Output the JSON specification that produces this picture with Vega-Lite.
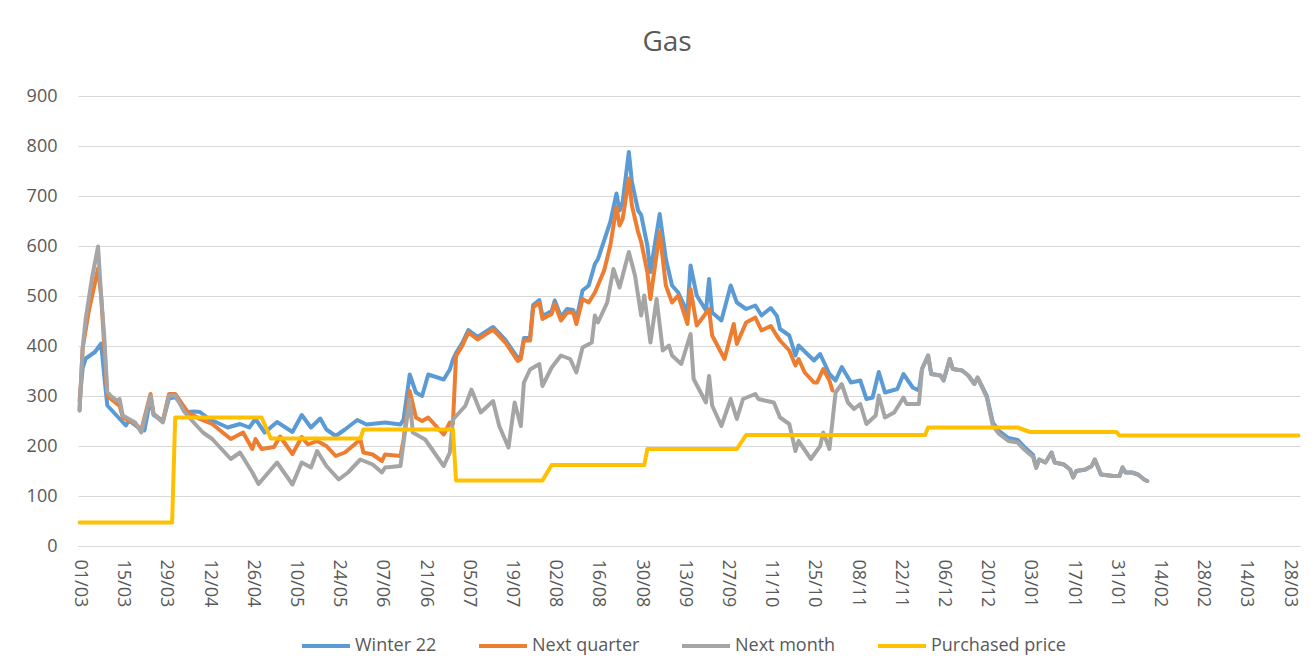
{
"$schema": "https://vega.github.io/schema/vega-lite/v6.json",
"width": 1222, "height": 450,
"autosize": {"type": "none"},
"padding": {"left": 78, "top": 96, "right": 15, "bottom": 126},
"background": "white",
"config": {"view": {"stroke": null}, "font": "Open Sans"},
"title": {"text": "Gas", "fontSize": 28, "fontWeight": "normal", "font": "Open Sans", "color": "#595959", "offset": 30, "dx": -22, "anchor": "middle"},
"datasets": {
"series": [
{"d":"2022-03-01","s":"Winter 22","v":290},{"d":"2022-03-02","s":"Winter 22","v":355},{"d":"2022-03-03","s":"Winter 22","v":375},{"d":"2022-03-06","s":"Winter 22","v":388},{"d":"2022-03-08","s":"Winter 22","v":405},{"d":"2022-03-09","s":"Winter 22","v":341},{"d":"2022-03-10","s":"Winter 22","v":281},{"d":"2022-03-13","s":"Winter 22","v":261},{"d":"2022-03-16","s":"Winter 22","v":241},{"d":"2022-03-17","s":"Winter 22","v":251},{"d":"2022-03-20","s":"Winter 22","v":237},{"d":"2022-03-22","s":"Winter 22","v":231},{"d":"2022-03-24","s":"Winter 22","v":295},{"d":"2022-03-25","s":"Winter 22","v":262},{"d":"2022-03-28","s":"Winter 22","v":250},{"d":"2022-03-30","s":"Winter 22","v":295},{"d":"2022-04-01","s":"Winter 22","v":298},{"d":"2022-04-05","s":"Winter 22","v":268},{"d":"2022-04-07","s":"Winter 22","v":269},{"d":"2022-04-09","s":"Winter 22","v":268},{"d":"2022-04-12","s":"Winter 22","v":254},{"d":"2022-04-18","s":"Winter 22","v":237},{"d":"2022-04-22","s":"Winter 22","v":244},{"d":"2022-04-25","s":"Winter 22","v":237},{"d":"2022-04-27","s":"Winter 22","v":254},{"d":"2022-04-30","s":"Winter 22","v":227},{"d":"2022-05-04","s":"Winter 22","v":248},{"d":"2022-05-09","s":"Winter 22","v":228},{"d":"2022-05-12","s":"Winter 22","v":262},{"d":"2022-05-15","s":"Winter 22","v":237},{"d":"2022-05-18","s":"Winter 22","v":255},{"d":"2022-05-20","s":"Winter 22","v":233},{"d":"2022-05-23","s":"Winter 22","v":220},{"d":"2022-05-26","s":"Winter 22","v":233},{"d":"2022-05-30","s":"Winter 22","v":252},{"d":"2022-06-02","s":"Winter 22","v":243},{"d":"2022-06-08","s":"Winter 22","v":247},{"d":"2022-06-13","s":"Winter 22","v":243},{"d":"2022-06-14","s":"Winter 22","v":253},{"d":"2022-06-16","s":"Winter 22","v":343},{"d":"2022-06-18","s":"Winter 22","v":307},{"d":"2022-06-20","s":"Winter 22","v":300},{"d":"2022-06-22","s":"Winter 22","v":343},{"d":"2022-06-27","s":"Winter 22","v":333},{"d":"2022-06-29","s":"Winter 22","v":353},{"d":"2022-06-30","s":"Winter 22","v":373},{"d":"2022-07-01","s":"Winter 22","v":386},{"d":"2022-07-03","s":"Winter 22","v":406},{"d":"2022-07-05","s":"Winter 22","v":432},{"d":"2022-07-08","s":"Winter 22","v":418},{"d":"2022-07-13","s":"Winter 22","v":438},{"d":"2022-07-17","s":"Winter 22","v":412},{"d":"2022-07-21","s":"Winter 22","v":376},{"d":"2022-07-22","s":"Winter 22","v":380},{"d":"2022-07-23","s":"Winter 22","v":416},{"d":"2022-07-25","s":"Winter 22","v":416},{"d":"2022-07-26","s":"Winter 22","v":482},{"d":"2022-07-28","s":"Winter 22","v":492},{"d":"2022-07-29","s":"Winter 22","v":460},{"d":"2022-08-01","s":"Winter 22","v":470},{"d":"2022-08-02","s":"Winter 22","v":491},{"d":"2022-08-04","s":"Winter 22","v":458},{"d":"2022-08-06","s":"Winter 22","v":474},{"d":"2022-08-08","s":"Winter 22","v":472},{"d":"2022-08-09","s":"Winter 22","v":452},{"d":"2022-08-11","s":"Winter 22","v":511},{"d":"2022-08-13","s":"Winter 22","v":521},{"d":"2022-08-15","s":"Winter 22","v":564},{"d":"2022-08-16","s":"Winter 22","v":574},{"d":"2022-08-20","s":"Winter 22","v":648},{"d":"2022-08-22","s":"Winter 22","v":705},{"d":"2022-08-23","s":"Winter 22","v":671},{"d":"2022-08-24","s":"Winter 22","v":688},{"d":"2022-08-26","s":"Winter 22","v":788},{"d":"2022-08-27","s":"Winter 22","v":728},{"d":"2022-08-29","s":"Winter 22","v":671},{"d":"2022-08-30","s":"Winter 22","v":662},{"d":"2022-09-01","s":"Winter 22","v":601},{"d":"2022-09-02","s":"Winter 22","v":548},{"d":"2022-09-05","s":"Winter 22","v":664},{"d":"2022-09-07","s":"Winter 22","v":574},{"d":"2022-09-09","s":"Winter 22","v":521},{"d":"2022-09-11","s":"Winter 22","v":507},{"d":"2022-09-14","s":"Winter 22","v":467},{"d":"2022-09-15","s":"Winter 22","v":561},{"d":"2022-09-17","s":"Winter 22","v":501},{"d":"2022-09-20","s":"Winter 22","v":471},{"d":"2022-09-21","s":"Winter 22","v":534},{"d":"2022-09-22","s":"Winter 22","v":467},{"d":"2022-09-25","s":"Winter 22","v":451},{"d":"2022-09-28","s":"Winter 22","v":521},{"d":"2022-09-30","s":"Winter 22","v":487},{"d":"2022-10-03","s":"Winter 22","v":474},{"d":"2022-10-06","s":"Winter 22","v":481},{"d":"2022-10-08","s":"Winter 22","v":461},{"d":"2022-10-11","s":"Winter 22","v":476},{"d":"2022-10-13","s":"Winter 22","v":460},{"d":"2022-10-14","s":"Winter 22","v":434},{"d":"2022-10-17","s":"Winter 22","v":421},{"d":"2022-10-19","s":"Winter 22","v":381},{"d":"2022-10-20","s":"Winter 22","v":401},{"d":"2022-10-25","s":"Winter 22","v":371},{"d":"2022-10-27","s":"Winter 22","v":384},{"d":"2022-10-30","s":"Winter 22","v":344},{"d":"2022-11-01","s":"Winter 22","v":331},{"d":"2022-11-03","s":"Winter 22","v":358},{"d":"2022-11-06","s":"Winter 22","v":327},{"d":"2022-11-09","s":"Winter 22","v":331},{"d":"2022-11-11","s":"Winter 22","v":294},{"d":"2022-11-13","s":"Winter 22","v":297},{"d":"2022-11-15","s":"Winter 22","v":348},{"d":"2022-11-17","s":"Winter 22","v":307},{"d":"2022-11-21","s":"Winter 22","v":314},{"d":"2022-11-23","s":"Winter 22","v":344},{"d":"2022-11-26","s":"Winter 22","v":317},{"d":"2022-11-28","s":"Winter 22","v":311},{"d":"2022-11-29","s":"Winter 22","v":354},{"d":"2022-12-01","s":"Winter 22","v":381},{"d":"2022-12-02","s":"Winter 22","v":344},{"d":"2022-12-05","s":"Winter 22","v":341},{"d":"2022-12-06","s":"Winter 22","v":331},{"d":"2022-12-08","s":"Winter 22","v":374},{"d":"2022-12-09","s":"Winter 22","v":354},{"d":"2022-12-12","s":"Winter 22","v":351},{"d":"2022-12-14","s":"Winter 22","v":341},{"d":"2022-12-16","s":"Winter 22","v":324},{"d":"2022-12-17","s":"Winter 22","v":337},{"d":"2022-12-20","s":"Winter 22","v":300},{"d":"2022-12-22","s":"Winter 22","v":246},{"d":"2022-12-24","s":"Winter 22","v":230},{"d":"2022-12-27","s":"Winter 22","v":216},{"d":"2022-12-30","s":"Winter 22","v":212},{"d":"2023-01-01","s":"Winter 22","v":199},{"d":"2023-01-04","s":"Winter 22","v":182},{"d":"2023-01-05","s":"Winter 22","v":158},{"d":"2023-01-06","s":"Winter 22","v":173},{"d":"2023-01-08","s":"Winter 22","v":167},{"d":"2023-01-10","s":"Winter 22","v":187},{"d":"2023-01-11","s":"Winter 22","v":167},{"d":"2023-01-14","s":"Winter 22","v":163},{"d":"2023-01-16","s":"Winter 22","v":153},{"d":"2023-01-17","s":"Winter 22","v":137},{"d":"2023-01-18","s":"Winter 22","v":150},{"d":"2023-01-21","s":"Winter 22","v":153},{"d":"2023-01-23","s":"Winter 22","v":160},{"d":"2023-01-24","s":"Winter 22","v":173},{"d":"2023-01-26","s":"Winter 22","v":143},{"d":"2023-01-30","s":"Winter 22","v":140},{"d":"2023-02-01","s":"Winter 22","v":140},{"d":"2023-02-02","s":"Winter 22","v":157},{"d":"2023-02-03","s":"Winter 22","v":147},{"d":"2023-02-05","s":"Winter 22","v":147},{"d":"2023-02-07","s":"Winter 22","v":143},{"d":"2023-02-09","s":"Winter 22","v":133},{"d":"2023-02-10","s":"Winter 22","v":130},

{"d":"2022-03-01","s":"Next quarter","v":271},{"d":"2022-03-02","s":"Next quarter","v":395},{"d":"2022-03-04","s":"Next quarter","v":470},{"d":"2022-03-07","s":"Next quarter","v":555},{"d":"2022-03-08","s":"Next quarter","v":500},{"d":"2022-03-09","s":"Next quarter","v":400},{"d":"2022-03-10","s":"Next quarter","v":300},{"d":"2022-03-11","s":"Next quarter","v":295},{"d":"2022-03-13","s":"Next quarter","v":285},{"d":"2022-03-14","s":"Next quarter","v":280},{"d":"2022-03-15","s":"Next quarter","v":258},{"d":"2022-03-17","s":"Next quarter","v":250},{"d":"2022-03-19","s":"Next quarter","v":245},{"d":"2022-03-21","s":"Next quarter","v":232},{"d":"2022-03-24","s":"Next quarter","v":304},{"d":"2022-03-25","s":"Next quarter","v":264},{"d":"2022-03-28","s":"Next quarter","v":250},{"d":"2022-03-30","s":"Next quarter","v":304},{"d":"2022-04-01","s":"Next quarter","v":304},{"d":"2022-04-05","s":"Next quarter","v":268},{"d":"2022-04-09","s":"Next quarter","v":254},{"d":"2022-04-13","s":"Next quarter","v":244},{"d":"2022-04-19","s":"Next quarter","v":214},{"d":"2022-04-23","s":"Next quarter","v":227},{"d":"2022-04-26","s":"Next quarter","v":194},{"d":"2022-04-27","s":"Next quarter","v":214},{"d":"2022-04-29","s":"Next quarter","v":194},{"d":"2022-05-03","s":"Next quarter","v":198},{"d":"2022-05-05","s":"Next quarter","v":219},{"d":"2022-05-09","s":"Next quarter","v":184},{"d":"2022-05-12","s":"Next quarter","v":218},{"d":"2022-05-14","s":"Next quarter","v":203},{"d":"2022-05-17","s":"Next quarter","v":210},{"d":"2022-05-20","s":"Next quarter","v":200},{"d":"2022-05-23","s":"Next quarter","v":180},{"d":"2022-05-26","s":"Next quarter","v":187},{"d":"2022-05-31","s":"Next quarter","v":213},{"d":"2022-06-01","s":"Next quarter","v":187},{"d":"2022-06-04","s":"Next quarter","v":183},{"d":"2022-06-07","s":"Next quarter","v":170},{"d":"2022-06-08","s":"Next quarter","v":183},{"d":"2022-06-13","s":"Next quarter","v":180},{"d":"2022-06-14","s":"Next quarter","v":213},{"d":"2022-06-16","s":"Next quarter","v":310},{"d":"2022-06-18","s":"Next quarter","v":257},{"d":"2022-06-20","s":"Next quarter","v":250},{"d":"2022-06-22","s":"Next quarter","v":257},{"d":"2022-06-27","s":"Next quarter","v":223},{"d":"2022-06-29","s":"Next quarter","v":247},{"d":"2022-06-30","s":"Next quarter","v":245},{"d":"2022-07-01","s":"Next quarter","v":380},{"d":"2022-07-03","s":"Next quarter","v":400},{"d":"2022-07-05","s":"Next quarter","v":427},{"d":"2022-07-08","s":"Next quarter","v":413},{"d":"2022-07-13","s":"Next quarter","v":433},{"d":"2022-07-17","s":"Next quarter","v":407},{"d":"2022-07-21","s":"Next quarter","v":370},{"d":"2022-07-22","s":"Next quarter","v":374},{"d":"2022-07-23","s":"Next quarter","v":411},{"d":"2022-07-25","s":"Next quarter","v":411},{"d":"2022-07-26","s":"Next quarter","v":477},{"d":"2022-07-28","s":"Next quarter","v":487},{"d":"2022-07-29","s":"Next quarter","v":454},{"d":"2022-08-01","s":"Next quarter","v":464},{"d":"2022-08-02","s":"Next quarter","v":484},{"d":"2022-08-04","s":"Next quarter","v":451},{"d":"2022-08-06","s":"Next quarter","v":467},{"d":"2022-08-08","s":"Next quarter","v":467},{"d":"2022-08-09","s":"Next quarter","v":444},{"d":"2022-08-11","s":"Next quarter","v":494},{"d":"2022-08-13","s":"Next quarter","v":487},{"d":"2022-08-15","s":"Next quarter","v":507},{"d":"2022-08-18","s":"Next quarter","v":551},{"d":"2022-08-20","s":"Next quarter","v":601},{"d":"2022-08-22","s":"Next quarter","v":678},{"d":"2022-08-23","s":"Next quarter","v":641},{"d":"2022-08-24","s":"Next quarter","v":654},{"d":"2022-08-26","s":"Next quarter","v":735},{"d":"2022-08-27","s":"Next quarter","v":681},{"d":"2022-08-29","s":"Next quarter","v":628},{"d":"2022-08-30","s":"Next quarter","v":608},{"d":"2022-09-01","s":"Next quarter","v":548},{"d":"2022-09-02","s":"Next quarter","v":494},{"d":"2022-09-05","s":"Next quarter","v":628},{"d":"2022-09-07","s":"Next quarter","v":521},{"d":"2022-09-09","s":"Next quarter","v":487},{"d":"2022-09-11","s":"Next quarter","v":501},{"d":"2022-09-14","s":"Next quarter","v":444},{"d":"2022-09-15","s":"Next quarter","v":514},{"d":"2022-09-17","s":"Next quarter","v":441},{"d":"2022-09-21","s":"Next quarter","v":474},{"d":"2022-09-22","s":"Next quarter","v":421},{"d":"2022-09-26","s":"Next quarter","v":374},{"d":"2022-09-29","s":"Next quarter","v":444},{"d":"2022-09-30","s":"Next quarter","v":404},{"d":"2022-10-03","s":"Next quarter","v":447},{"d":"2022-10-06","s":"Next quarter","v":457},{"d":"2022-10-08","s":"Next quarter","v":431},{"d":"2022-10-11","s":"Next quarter","v":440},{"d":"2022-10-13","s":"Next quarter","v":420},{"d":"2022-10-14","s":"Next quarter","v":411},{"d":"2022-10-17","s":"Next quarter","v":391},{"d":"2022-10-19","s":"Next quarter","v":361},{"d":"2022-10-20","s":"Next quarter","v":374},{"d":"2022-10-22","s":"Next quarter","v":347},{"d":"2022-10-25","s":"Next quarter","v":327},{"d":"2022-10-26","s":"Next quarter","v":327},{"d":"2022-10-28","s":"Next quarter","v":354},{"d":"2022-10-30","s":"Next quarter","v":331},{"d":"2022-10-31","s":"Next quarter","v":311},

{"d":"2022-03-01","s":"Next month","v":271},{"d":"2022-03-02","s":"Next month","v":395},{"d":"2022-03-03","s":"Next month","v":455},{"d":"2022-03-05","s":"Next month","v":535},{"d":"2022-03-07","s":"Next month","v":599},{"d":"2022-03-08","s":"Next month","v":500},{"d":"2022-03-09","s":"Next month","v":420},{"d":"2022-03-10","s":"Next month","v":308},{"d":"2022-03-11","s":"Next month","v":301},{"d":"2022-03-13","s":"Next month","v":291},{"d":"2022-03-14","s":"Next month","v":294},{"d":"2022-03-15","s":"Next month","v":261},{"d":"2022-03-17","s":"Next month","v":254},{"d":"2022-03-19","s":"Next month","v":247},{"d":"2022-03-21","s":"Next month","v":227},{"d":"2022-03-24","s":"Next month","v":301},{"d":"2022-03-25","s":"Next month","v":264},{"d":"2022-03-28","s":"Next month","v":247},{"d":"2022-03-30","s":"Next month","v":301},{"d":"2022-04-01","s":"Next month","v":301},{"d":"2022-04-04","s":"Next month","v":268},{"d":"2022-04-07","s":"Next month","v":247},{"d":"2022-04-10","s":"Next month","v":227},{"d":"2022-04-13","s":"Next month","v":214},{"d":"2022-04-19","s":"Next month","v":174},{"d":"2022-04-22","s":"Next month","v":187},{"d":"2022-04-26","s":"Next month","v":147},{"d":"2022-04-28","s":"Next month","v":124},{"d":"2022-05-04","s":"Next month","v":167},{"d":"2022-05-09","s":"Next month","v":123},{"d":"2022-05-12","s":"Next month","v":167},{"d":"2022-05-15","s":"Next month","v":157},{"d":"2022-05-17","s":"Next month","v":190},{"d":"2022-05-20","s":"Next month","v":160},{"d":"2022-05-24","s":"Next month","v":133},{"d":"2022-05-27","s":"Next month","v":147},{"d":"2022-05-31","s":"Next month","v":173},{"d":"2022-06-04","s":"Next month","v":163},{"d":"2022-06-07","s":"Next month","v":147},{"d":"2022-06-08","s":"Next month","v":157},{"d":"2022-06-13","s":"Next month","v":160},{"d":"2022-06-14","s":"Next month","v":207},{"d":"2022-06-16","s":"Next month","v":293},{"d":"2022-06-17","s":"Next month","v":227},{"d":"2022-06-21","s":"Next month","v":213},{"d":"2022-06-27","s":"Next month","v":160},{"d":"2022-06-29","s":"Next month","v":187},{"d":"2022-06-30","s":"Next month","v":253},{"d":"2022-07-04","s":"Next month","v":280},{"d":"2022-07-06","s":"Next month","v":313},{"d":"2022-07-09","s":"Next month","v":267},{"d":"2022-07-13","s":"Next month","v":290},{"d":"2022-07-15","s":"Next month","v":240},{"d":"2022-07-18","s":"Next month","v":197},{"d":"2022-07-20","s":"Next month","v":287},{"d":"2022-07-22","s":"Next month","v":240},{"d":"2022-07-23","s":"Next month","v":327},{"d":"2022-07-25","s":"Next month","v":353},{"d":"2022-07-28","s":"Next month","v":364},{"d":"2022-07-29","s":"Next month","v":320},{"d":"2022-08-01","s":"Next month","v":357},{"d":"2022-08-04","s":"Next month","v":381},{"d":"2022-08-07","s":"Next month","v":374},{"d":"2022-08-09","s":"Next month","v":347},{"d":"2022-08-11","s":"Next month","v":397},{"d":"2022-08-14","s":"Next month","v":407},{"d":"2022-08-15","s":"Next month","v":461},{"d":"2022-08-16","s":"Next month","v":447},{"d":"2022-08-19","s":"Next month","v":487},{"d":"2022-08-21","s":"Next month","v":554},{"d":"2022-08-23","s":"Next month","v":517},{"d":"2022-08-26","s":"Next month","v":588},{"d":"2022-08-28","s":"Next month","v":541},{"d":"2022-08-30","s":"Next month","v":461},{"d":"2022-08-31","s":"Next month","v":501},{"d":"2022-09-02","s":"Next month","v":407},{"d":"2022-09-04","s":"Next month","v":494},{"d":"2022-09-06","s":"Next month","v":391},{"d":"2022-09-08","s":"Next month","v":401},{"d":"2022-09-09","s":"Next month","v":381},{"d":"2022-09-12","s":"Next month","v":364},{"d":"2022-09-15","s":"Next month","v":424},{"d":"2022-09-16","s":"Next month","v":334},{"d":"2022-09-20","s":"Next month","v":287},{"d":"2022-09-21","s":"Next month","v":340},{"d":"2022-09-22","s":"Next month","v":281},{"d":"2022-09-25","s":"Next month","v":240},{"d":"2022-09-28","s":"Next month","v":294},{"d":"2022-09-30","s":"Next month","v":254},{"d":"2022-10-02","s":"Next month","v":294},{"d":"2022-10-06","s":"Next month","v":304},{"d":"2022-10-07","s":"Next month","v":294},{"d":"2022-10-09","s":"Next month","v":291},{"d":"2022-10-12","s":"Next month","v":287},{"d":"2022-10-14","s":"Next month","v":257},{"d":"2022-10-17","s":"Next month","v":244},{"d":"2022-10-19","s":"Next month","v":190},{"d":"2022-10-20","s":"Next month","v":210},{"d":"2022-10-24","s":"Next month","v":174},{"d":"2022-10-27","s":"Next month","v":200},{"d":"2022-10-28","s":"Next month","v":227},{"d":"2022-10-30","s":"Next month","v":194},{"d":"2022-11-01","s":"Next month","v":307},{"d":"2022-11-03","s":"Next month","v":324},{"d":"2022-11-05","s":"Next month","v":287},{"d":"2022-11-07","s":"Next month","v":274},{"d":"2022-11-09","s":"Next month","v":284},{"d":"2022-11-11","s":"Next month","v":244},{"d":"2022-11-14","s":"Next month","v":261},{"d":"2022-11-15","s":"Next month","v":301},{"d":"2022-11-17","s":"Next month","v":257},{"d":"2022-11-20","s":"Next month","v":267},{"d":"2022-11-23","s":"Next month","v":297},{"d":"2022-11-24","s":"Next month","v":284},{"d":"2022-11-28","s":"Next month","v":284},{"d":"2022-11-29","s":"Next month","v":354},{"d":"2022-12-01","s":"Next month","v":381},{"d":"2022-12-02","s":"Next month","v":344},{"d":"2022-12-05","s":"Next month","v":341},{"d":"2022-12-06","s":"Next month","v":331},{"d":"2022-12-08","s":"Next month","v":374},{"d":"2022-12-09","s":"Next month","v":354},{"d":"2022-12-12","s":"Next month","v":351},{"d":"2022-12-14","s":"Next month","v":341},{"d":"2022-12-16","s":"Next month","v":324},{"d":"2022-12-17","s":"Next month","v":337},{"d":"2022-12-20","s":"Next month","v":297},{"d":"2022-12-22","s":"Next month","v":240},{"d":"2022-12-24","s":"Next month","v":224},{"d":"2022-12-27","s":"Next month","v":210},{"d":"2022-12-30","s":"Next month","v":207},{"d":"2023-01-01","s":"Next month","v":194},{"d":"2023-01-04","s":"Next month","v":178},{"d":"2023-01-05","s":"Next month","v":156},{"d":"2023-01-06","s":"Next month","v":173},{"d":"2023-01-08","s":"Next month","v":167},{"d":"2023-01-10","s":"Next month","v":187},{"d":"2023-01-11","s":"Next month","v":167},{"d":"2023-01-14","s":"Next month","v":163},{"d":"2023-01-16","s":"Next month","v":153},{"d":"2023-01-17","s":"Next month","v":137},{"d":"2023-01-18","s":"Next month","v":150},{"d":"2023-01-21","s":"Next month","v":153},{"d":"2023-01-23","s":"Next month","v":160},{"d":"2023-01-24","s":"Next month","v":173},{"d":"2023-01-26","s":"Next month","v":143},{"d":"2023-01-30","s":"Next month","v":140},{"d":"2023-02-01","s":"Next month","v":140},{"d":"2023-02-02","s":"Next month","v":157},{"d":"2023-02-03","s":"Next month","v":147},{"d":"2023-02-05","s":"Next month","v":147},{"d":"2023-02-07","s":"Next month","v":143},{"d":"2023-02-09","s":"Next month","v":133},{"d":"2023-02-10","s":"Next month","v":130},

{"d":"2022-03-01","s":"Purchased price","v":47},{"d":"2022-03-31","s":"Purchased price","v":47},{"d":"2022-04-01","s":"Purchased price","v":257},{"d":"2022-04-29","s":"Purchased price","v":257},{"d":"2022-05-02","s":"Purchased price","v":215},{"d":"2022-05-31","s":"Purchased price","v":215},{"d":"2022-06-01","s":"Purchased price","v":233},{"d":"2022-06-30","s":"Purchased price","v":233},{"d":"2022-07-01","s":"Purchased price","v":131},{"d":"2022-07-29","s":"Purchased price","v":131},{"d":"2022-08-01","s":"Purchased price","v":162},{"d":"2022-08-31","s":"Purchased price","v":162},{"d":"2022-09-01","s":"Purchased price","v":194},{"d":"2022-09-30","s":"Purchased price","v":194},{"d":"2022-10-03","s":"Purchased price","v":222},{"d":"2022-11-30","s":"Purchased price","v":222},{"d":"2022-12-01","s":"Purchased price","v":237},{"d":"2022-12-30","s":"Purchased price","v":237},{"d":"2023-01-03","s":"Purchased price","v":228},{"d":"2023-01-31","s":"Purchased price","v":228},{"d":"2023-02-01","s":"Purchased price","v":221},{"d":"2023-03-31","s":"Purchased price","v":221}
]
},
"data": {"name": "series", "format": {"parse": {"d": "utc:'%Y-%m-%d'"}}},
"encoding": {
"x": {"field": "d", "type": "temporal",
 "scale": {"type": "utc", "domain": [{"year": 2022, "month": 2, "date": 28, "hours": 12, "utc": true}, {"year": 2023, "month": 3, "date": 31, "hours": 12, "utc": true}]},
 "axis": {"title": null, "labelExpr": "utcFormat(datum.value, '%d/%m')", "labelAngle": 90, "labelFontSize": 18, "labelFont": "Open Sans", "labelColor": "#595959", "labelPadding": 13, "labelFlush": false, "labelOverlap": false, "grid": false, "ticks": false, "tickSize": 0, "domain": true, "domainColor": "#D9D9D9", "domainWidth": 1,
  "values": [
   {"year":2022,"month":3,"date":1,"utc":true},{"year":2022,"month":3,"date":15,"utc":true},{"year":2022,"month":3,"date":29,"utc":true},{"year":2022,"month":4,"date":12,"utc":true},{"year":2022,"month":4,"date":26,"utc":true},{"year":2022,"month":5,"date":10,"utc":true},{"year":2022,"month":5,"date":24,"utc":true},{"year":2022,"month":6,"date":7,"utc":true},{"year":2022,"month":6,"date":21,"utc":true},{"year":2022,"month":7,"date":5,"utc":true},{"year":2022,"month":7,"date":19,"utc":true},{"year":2022,"month":8,"date":2,"utc":true},{"year":2022,"month":8,"date":16,"utc":true},{"year":2022,"month":8,"date":30,"utc":true},{"year":2022,"month":9,"date":13,"utc":true},{"year":2022,"month":9,"date":27,"utc":true},{"year":2022,"month":10,"date":11,"utc":true},{"year":2022,"month":10,"date":25,"utc":true},{"year":2022,"month":11,"date":8,"utc":true},{"year":2022,"month":11,"date":22,"utc":true},{"year":2022,"month":12,"date":6,"utc":true},{"year":2022,"month":12,"date":20,"utc":true},{"year":2023,"month":1,"date":3,"utc":true},{"year":2023,"month":1,"date":17,"utc":true},{"year":2023,"month":1,"date":31,"utc":true},{"year":2023,"month":2,"date":14,"utc":true},{"year":2023,"month":2,"date":28,"utc":true},{"year":2023,"month":3,"date":14,"utc":true},{"year":2023,"month":3,"date":28,"utc":true}
  ]}},
"y": {"field": "v", "type": "quantitative",
 "scale": {"domain": [0, 900], "nice": false, "zero": true},
 "axis": {"title": null, "values": [0,100,200,300,400,500,600,700,800,900], "labelFontSize": 18, "labelFont": "Open Sans", "labelColor": "#595959", "labelPadding": 21, "grid": true, "gridColor": "#D9D9D9", "gridWidth": 1, "domain": false, "ticks": false, "tickSize": 0}},
"color": {"field": "s", "type": "nominal",
 "scale": {"domain": ["Winter 22", "Next quarter", "Next month", "Purchased price"], "range": ["#5B9BD5", "#ED7D31", "#A5A5A5", "#FFC000"]},
 "legend": {"orient": "none", "legendX": 222, "legendY": 524, "direction": "horizontal", "title": null, "symbolType": "stroke", "symbolSize": 2304, "symbolStrokeWidth": 4, "labelFontSize": 18, "labelFont": "Open Sans", "labelColor": "#595959", "labelOffset": 3, "columnPadding": 34, "labelLimit": 300}}
},
"layer": [
 {"transform": [{"filter": "datum.s === 'Winter 22'"}], "mark": {"type": "line", "strokeWidth": 4, "strokeJoin": "round", "strokeCap": "round"}},
 {"transform": [{"filter": "datum.s === 'Next quarter'"}], "mark": {"type": "line", "strokeWidth": 4, "strokeJoin": "round", "strokeCap": "round"}},
 {"transform": [{"filter": "datum.s === 'Next month'"}], "mark": {"type": "line", "strokeWidth": 4, "strokeJoin": "round", "strokeCap": "round"}},
 {"transform": [{"filter": "datum.s === 'Purchased price'"}], "mark": {"type": "line", "strokeWidth": 4, "strokeJoin": "round", "strokeCap": "round"}}
]
}
